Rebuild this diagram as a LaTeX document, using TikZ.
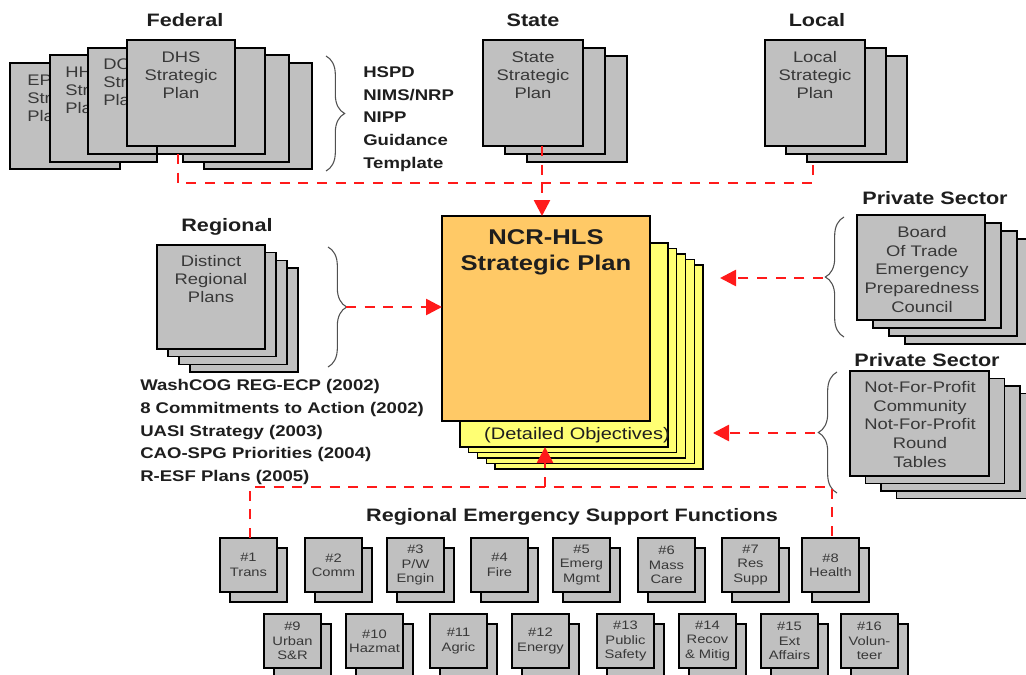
\documentclass[tikz,border=0pt]{standalone}
\usepackage{fontspec}
\setmainfont[FakeStretch=1.2]{Liberation Sans}
\usetikzlibrary{arrows.meta,decorations.pathreplacing,fit}
\definecolor{sheetgray}{HTML}{C0C0C0}
\definecolor{ncrorange}{HTML}{FFC966}
\definecolor{ncryellow}{HTML}{FFFF73}
\definecolor{txtgray}{HTML}{383838}
\definecolor{hdrcol}{HTML}{1E1E1E}
\definecolor{bracecol}{HTML}{505050}
\definecolor{linered}{HTML}{FF1A1A}
\tikzset{
  sheet/.style={draw=black, line width=1.1pt, fill=sheetgray, inner sep=0pt, outer sep=0pt},
  ysheet/.style={sheet, fill=ncryellow},
  osheet/.style={sheet, fill=ncrorange},
  hdr/.style={font=\bfseries\fontsize{13.5}{16}\selectfont, text=hdrcol, inner sep=0pt, anchor=base},
  lst/.style={font=\bfseries\fontsize{11.6}{17}\selectfont, text=hdrcol, align=left, anchor=north west, inner sep=0pt},
  boxtext/.style={font=\fontsize{11.5}{13.5}\selectfont, text=txtgray, align=center, anchor=north, inner sep=0pt},
  boxtextl/.style={boxtext, align=left, anchor=north west},
  ptext/.style={boxtext, font=\fontsize{11.5}{13.9}\selectfont},
  esftext/.style={font=\fontsize{9.2}{10.8}\selectfont, text=txtgray, align=center, inner sep=0pt},
  ncrtitle/.style={font=\bfseries\fontsize{16}{19.5}\selectfont, text=hdrcol, align=center, anchor=north, inner sep=0pt},
  bracer/.style={draw=bracecol, line width=0.8pt, decorate, decoration={brace, amplitude=14pt}},
  reddash/.style={draw=linered, line width=2pt, dash pattern=on 7.5pt off 6.5pt},
  redarrow/.style={reddash, -{Triangle[length=12pt,width=12pt]}},
}
% #1 name #2 x #3 y #4 w #5 h #6 n #7 dx #8 dy
\newcommand\docstack[8]{%
  \foreach \i in {#6,...,1}{%
    \node[sheet, fit={({#2+\i*(#7)},{#3+\i*(#8)}) ({#2+#4+\i*(#7)},{#3+#5+\i*(#8)})}] (#1-\i) {};
  }
  \node[sheet, fit={(#2,#3) ({#2+#4},{#3+#5})}] (#1) {};
}
% #1 name #2 x #3 y #4 text
\newcommand\esfbox[4]{%
  \node[sheet, fit={({#2+10},{#3+10}) ({#2+67},{#3+64})}] (#1-b) {};
  \node[sheet, fit={(#2,#3) ({#2+57},{#3+54})}] (#1) {};
  \node[esftext] (#1-t) at (#1.center) {#4};
}
\begin{document}
\begin{tikzpicture}[x=0.75pt, y=-0.75pt]
\useasboundingbox (0,0) rectangle (1026,675);
\fill[white] (0,0) rectangle (1026,675);
\clip (0,0) rectangle (1026,675);

% ---------- headers ----------
\node[hdr] (h-fed) at (185,26.4) {Federal};
\node[hdr] (h-state) at (533,26.4) {State};
\node[hdr] (h-local) at (817,26.4) {Local};
\node[hdr] (h-reg) at (227,231.5) {Regional};
\node[hdr] (h-priv1) at (935,204.4) {Private Sector};
\node[hdr] (h-priv2) at (927,366) {Private Sector};
\node[hdr] (h-esf) at (572,521.5) {Regional Emergency Support Functions};

% ---------- federal fan ----------
\node[sheet, fit={(10,63) (120,169)}] (epa) {};
\node[boxtextl] (epa-t) at (27,74.5) {EP\\Str\\Pla};
\node[sheet, fit={(204,63) (312,169)}] (fedr3) {};
\node[sheet, fit={(50,55) (157,162)}] (hhs) {};
\node[boxtextl] (hhs-t) at (65,66.5) {HH\\Str\\Pla};
\node[sheet, fit={(183,55) (289,162)}] (fedr2) {};
\node[sheet, fit={(88,48) (195,154)}] (dot) {};
\node[boxtextl] (dot-t) at (103,58.5) {DO\\Str\\Pla};
\node[sheet, fit={(157,48) (265,154)}] (fedr1) {};
\node[sheet, fit={(127,40) (235,146)}] (dhs) {};
\node[boxtext] (dhs-t) at (181,51.5) {DHS\\Strategic\\Plan};

\draw[bracer] (326,56) -- (326,171);
\node[lst] (fedlist) at (363,66.5) {HSPD\\NIMS/NRP\\NIPP\\Guidance\\Template};

% ---------- state / local ----------
\docstack{state}{483}{40}{100}{106}{2}{22}{8}
\node[boxtext] (state-t) at (533,51.5) {State\\Strategic\\Plan};
\docstack{local}{765}{40}{100}{106}{2}{21}{8}
\node[boxtext] (local-t) at (815,51.5) {Local\\Strategic\\Plan};

% ---------- regional ----------
\docstack{reg}{157}{245}{108}{104}{3}{11}{7.7}
\node[boxtext] (reg-t) at (211,255.5) {Distinct\\Regional\\Plans};
\draw[bracer] (328,247) -- (328,367);
\coordinate (tipReg) at (346,307);
\node[lst] (reglist) at (140,379.5) {WashCOG REG-ECP (2002)\\8 Commitments to Action (2002)\\UASI Strategy (2003)\\CAO-SPG Priorities (2004)\\R-ESF Plans (2005)};

% ---------- NCR plan ----------
\foreach \i in {5,...,1}{%
  \node[ysheet, fit={({460+8.75*(\i-1)},{243+5.5*(\i-1)}) ({668+8.75*(\i-1)},{447+5.5*(\i-1)})}] (ncry-\i) {};
}
\node[osheet, fit={(442,216) (650,421)}] (ncr) {};
\node[ncrtitle] (ncr-t) at (546,229.3) {NCR-HLS\\Strategic Plan};
\node[font=\fontsize{12.5}{14}\selectfont, text=hdrcol, inner sep=0pt] (ncr-obj) at (577,435) {(Detailed Objectives)};

% ---------- private sector ----------
\docstack{priv1}{857}{215}{128}{105}{3}{16}{8}
\node[ptext] (priv1-t) at (922,226.5) {Board\\Of Trade\\Emergency\\Preparedness\\Council};
\draw[bracer] (844,337) -- (844,217);
\coordinate (tipPriv1) at (823,278);
\coordinate (endPriv1) at (720,278);

\docstack{priv2}{850}{371}{139}{105}{3}{15.5}{7.5}
\node[ptext] (priv2-t) at (920,381.5) {Not-For-Profit\\Community\\Not-For-Profit\\Round\\Tables};
\draw[bracer] (837,493) -- (837,372);
\coordinate (tipPriv2) at (815,433);
\coordinate (endPriv2) at (713,433);

% ---------- ESF boxes ----------
\esfbox{esf1}{220}{538}{\#1\\Trans}
\esfbox{esf2}{305}{538}{\#2\\Comm}
\esfbox{esf3}{387}{538}{\#3\\P/W\\Engin}
\esfbox{esf4}{471}{538}{\#4\\Fire}
\esfbox{esf5}{553}{538}{\#5\\Emerg\\Mgmt}
\esfbox{esf6}{638}{538}{\#6\\Mass\\Care}
\esfbox{esf7}{722}{538}{\#7\\Res\\Supp}
\esfbox{esf8}{802}{538}{\#8\\Health}
\esfbox{esf9}{264}{614}{\#9\\Urban\\S\&R}
\esfbox{esf10}{346}{614}{\#10\\Hazmat}
\esfbox{esf11}{430}{614}{\#11\\Agric}
\esfbox{esf12}{512}{614}{\#12\\Energy}
\esfbox{esf13}{597}{614}{\#13\\Public\\Safety}
\esfbox{esf14}{679}{614}{\#14\\Recov\\\& Mitig}
\esfbox{esf15}{761}{614}{\#15\\Ext\\Affairs}
\esfbox{esf16}{841}{614}{\#16\\Volun-\\teer}

% ---------- connectors ----------
\coordinate (jFed) at (178,183);
\coordinate (jLoc) at (813,183);
\coordinate (jState) at (542,183);
\draw[reddash] (jFed |- dot.south) -- (jFed) -- (jLoc) -- (jLoc |- local-2.south);
\draw[redarrow] (jState |- state.south) -- (jState |- ncr.north);
\draw[redarrow] (tipReg) -- (tipReg -| ncr.west);
\draw[redarrow] (tipPriv1) -- (endPriv1);
\draw[redarrow] (tipPriv2) -- (endPriv2);

\coordinate (jL) at (250,487);
\coordinate (jR) at (832,487);
\coordinate (jM) at (545,487);
\draw[reddash] (jL |- esf1.north) -- (jL) -- (jR) -- (jR |- esf8.north);
\draw[redarrow] (jM) -- (jM |- ncry-1.south);
\end{tikzpicture}
\end{document}
